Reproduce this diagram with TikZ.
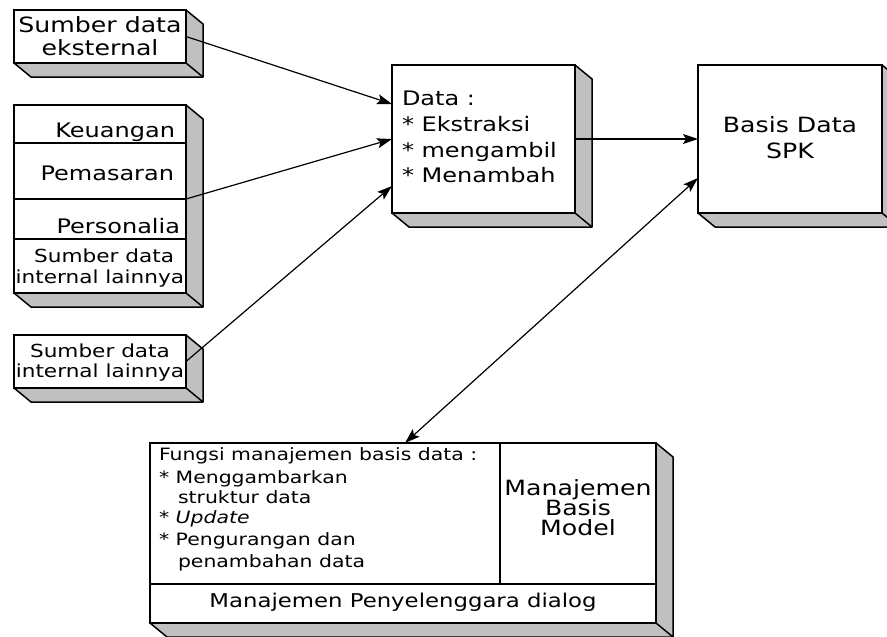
\documentclass[tikz,border=0pt]{standalone}
\usepackage{fontspec}
\setmainfont{DejaVu Sans}[FakeStretch=1.2]
\usetikzlibrary{calc,arrows.meta}

\definecolor{sidegray}{HTML}{C0C0C0}

\tikzset{
  front/.style={draw=black, line width=1.5pt, fill=white, inner sep=0pt, outer sep=0pt},
  side/.style={draw=black, line width=1.5pt, fill=sidegray, line join=round},
  tip/.tip={Stealth[length=15pt,width=10pt,inset=3pt]},
  flow/.style={line width=1.2pt, -tip},
  biflow/.style={line width=1.2pt, tip-tip},
  lbl/.style={inner sep=0pt, outer sep=0pt},
  big/.style={lbl, font=\fontsize{20}{24}\selectfont},
  bigger/.style={lbl, font=\fontsize{21}{24}\selectfont},
  mid/.style={lbl, font=\fontsize{18}{21}\selectfont},
  small/.style={lbl, font=\fontsize{17}{20}\selectfont},
  dlg/.style={lbl, font=\fontsize{19}{22}\selectfont},
}

% front face of a box: name, x1, y1, x2, y2 (y grows downwards)
\newcommand{\frontbox}[5]{%
  \node[front, minimum width={#4pt-#2pt}, minimum height={#5pt-#3pt}]
    (#1) at ({(#2+#4)/2},{(#3+#5)/2}) {};}

% grey side and bottom faces behind a front face
\newcommand{\extrude}[1]{%
  \filldraw[side] (#1.north east) -- ++(17,14) -- ($(#1.south east)+(17,14)$)
    -- ($(#1.south west)+(17,14)$) -- (#1.south west) -- (#1.south east) -- cycle;
  \draw[side, fill=none] (#1.south east) -- ++(17,14);}

\begin{document}
\begin{tikzpicture}[x=1pt, y=-1pt]
\useasboundingbox (0,0) rectangle (887,637);
\fill[white] (0,0) rectangle (887,637);

% external data source
\frontbox{ext}{14}{10}{186}{63}
\extrude{ext}
\node[bigger, anchor=base] (ext1) at (100,32) {Sumber data};
\node[bigger, anchor=base] (ext2) at (100,55) {eksternal};

% internal data sources
\frontbox{stack}{14}{105}{186}{293}
\extrude{stack}
\frontbox{keu}{14}{105}{186}{143}
\frontbox{pem}{14}{143}{186}{199}
\frontbox{per}{14}{199}{186}{239}
\frontbox{lain}{14}{239}{186}{293}
\node[big, anchor=base east] (keut) at (175,137) {Keuangan};
\node[big, anchor=base east] (pemt) at (174,180) {Pemasaran};
\node[big, anchor=base east] (pert) at (180,233) {Personalia};
\node[mid, anchor=base east] (lain1) at (174,262) {Sumber data};
\node[mid, anchor=base east] (lain2) at (184,283) {internal lainnya};

% other internal source
\frontbox{int}{14}{335}{186}{388}
\extrude{int}
\node[mid, anchor=base] (int1) at (100,357) {Sumber data};
\node[mid, anchor=base] (int2) at (100,377) {internal lainnya};

% data processing
\frontbox{data}{392}{65}{575}{213}
\extrude{data}
\node[big, anchor=base west] (d1) at (402,105) {Data :};
\node[big, anchor=base west] (d2) at (402,131) {* Ekstraksi};
\node[big, anchor=base west] (d3) at (402,157) {* mengambil};
\node[big, anchor=base west] (d4) at (402,182) {* Menambah};

% DSS database
\frontbox{spk}{698}{65}{882}{213}
\extrude{spk}
\node[bigger, anchor=base] (spk1) at (790,132) {Basis Data};
\node[bigger, anchor=base] (spk2) at (790,158) {SPK};

% database management system
\frontbox{dbms}{150}{443}{656}{623}
\extrude{dbms}
\frontbox{fungsi}{150}{443}{500}{584}
\frontbox{model}{500}{443}{656}{584}
\frontbox{dialog}{150}{584}{656}{623}
\node[small, anchor=base west] (f1) at (159,460) {Fungsi manajemen basis data :};
\node[small, anchor=base west] (f2) at (159,483) {* Menggambarkan};
\node[small, anchor=base west] (f3) at (178,503) {struktur data};
\node[small, anchor=base west] (f4) at (159,523) {* \textit{Update}};
\node[small, anchor=base west] (f5) at (159,545) {* Pengurangan dan};
\node[small, anchor=base west] (f6) at (178,567) {penambahan data};
\node[bigger, anchor=base] (m1) at (578,495) {Manajemen};
\node[bigger, anchor=base] (m2) at (578,515) {Basis};
\node[bigger, anchor=base] (m3) at (578,535) {Model};
\node[dlg, anchor=base] (dl) at (403,607) {Manajemen Penyelenggara dialog};

% connectors
\draw[flow] (ext.east) -- ($(data.west)+(0,-35)$);
\draw[flow] (pem.south east) -- (data.west);
\draw[flow] (int.east) -- ($(data.west)+(0,47)$);
\draw[flow] (data.east) -- (spk.west);
\draw[biflow] ($(fungsi.north west)+(255,0)$) -- ($(spk.west)+(0,39)$);
\end{tikzpicture}
\end{document}
